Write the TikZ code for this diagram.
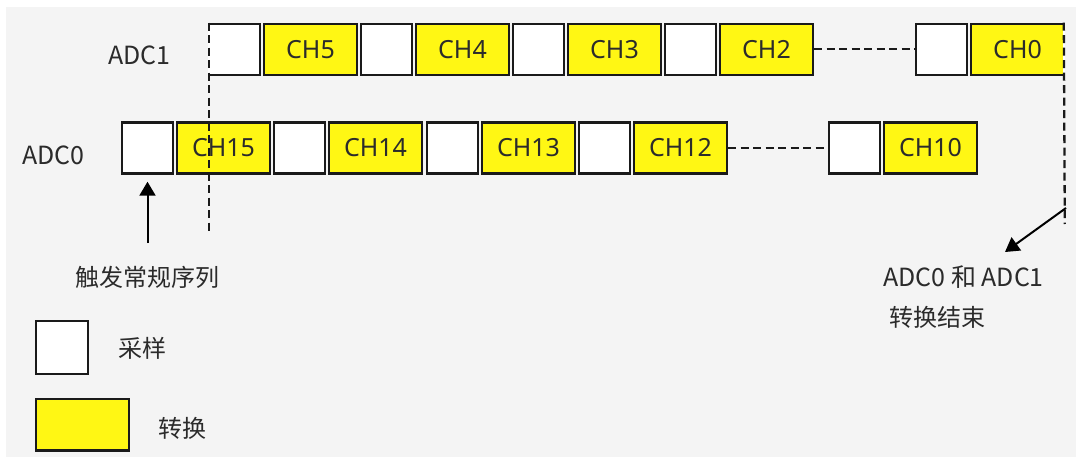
\documentclass[tikz,border=0pt]{standalone}
\usepackage{fontspec}
\setmainfont{Noto Sans CJK SC}
\newfontfamily\chfont{Noto Sans}
\usetikzlibrary{arrows.meta}
\definecolor{bg}{HTML}{F4F4F4}
\definecolor{yel}{HTML}{FFF714}
\definecolor{edgec}{HTML}{1A1A1A}
\definecolor{txt}{HTML}{2B2B2B}
\begin{document}
\begin{tikzpicture}[x=1pt,y=-1pt,
  box/.style={draw=edgec,line width=2.4pt,inner sep=0pt,minimum height=51pt,anchor=west},
  samp/.style={box,fill=white,minimum width=50.6pt},
  conv/.style={box,fill=yel,minimum width=92.6pt,font=\chfont\fontsize{25}{30}\selectfont,text=txt},
  lbl/.style={inner sep=0pt,anchor=west,text=txt,font=\fontsize{24}{28}\selectfont},
  adclbl/.style={lbl,font=\fontsize{25}{30}\selectfont},
  dashline/.style={draw=edgec,line width=2.3pt,dash pattern=on 8pt off 4.5pt},
  arr/.style={draw=black,line width=2pt,-{Triangle[length=14pt,width=16pt]}}
]
\useasboundingbox (0,0) rectangle (1076,460);
\fill[white] (0,0) rectangle (1076,460);
\fill[bg] (6,7.5) rectangle (1076,457);

% ADC1 row
\node[adclbl] (l1) at (108,55) {ADC1};
\node[samp] (a1w1) at (208,49.25) {};
\node[conv] (a1c5) at (263,49.25) {CH5};
\node[samp] (a1w2) at (360,49.25) {};
\node[conv] (a1c4) at (415,49.25) {CH4};
\node[samp] (a1w3) at (512,49.25) {};
\node[conv] (a1c3) at (567,49.25) {CH3};
\node[samp] (a1w4) at (664,49.25) {};
\node[conv] (a1c2) at (719,49.25) {CH2};
\node[samp] (a1w5) at (915,49.25) {};
\node[conv] (a1c0) at (970,49.25) {CH0};
\draw[dashline] (a1c2.east) -- (a1w5.west);

% ADC0 row
\node[adclbl] (l0) at (22,155) {ADC0};
\node[samp] (a0w1) at (121,148) {};
\node[conv] (a0c15) at (176,148) {CH15};
\node[samp] (a0w2) at (273,148) {};
\node[conv] (a0c14) at (328,148) {CH14};
\node[samp] (a0w3) at (426,148) {};
\node[conv] (a0c13) at (481,148) {CH13};
\node[samp] (a0w4) at (578,148) {};
\node[conv] (a0c12) at (633,148) {CH12};
\node[samp] (a0w5) at (828,148) {};
\node[conv] (a0c10) at (883,148) {CH10};
\draw[dashline] (a0c12.east) -- (a0w5.west);

% vertical dashed markers
\coordinate (d1) at (209.2,234);
\coordinate (d2) at (1064.8,224);
\draw[white,line width=2.4pt] ([xshift=1.2pt]a1w1.north west) -- ([xshift=1.2pt]a1w1.south west);
\draw[dashline] ([xshift=1.2pt]a1w1.north west) -- (d1);
\draw[white,line width=2.4pt] ([xshift=-1.2pt]a1c0.north east) -- ([xshift=-1.2pt]a1c0.south east);
\draw[dashline] ([xshift=-1.2pt]a1c0.north east) -- (d2);

% arrows
\coordinate (t0) at (147.5,243);
\draw[arr] (t0) -- ([yshift=-7pt]a0w1.south);
\coordinate (e1) at (1066,208);
\coordinate (e2) at (1005,252);
\draw[arr] (e1) -- (e2);

% annotations
\node[lbl] (trig) at (75,277) {触发常规序列};
\node[adclbl] (endA) at (883,277) {ADC0 和 ADC1};
\node[lbl] (endB) at (889,317) {转换结束};

% legend
\node[box,fill=white,minimum width=51.6pt,minimum height=52.6pt] (lgw) at (35,347.5) {};
\node[lbl] (lgwt) at (118,348) {采样};
\node[box,fill=yel,minimum width=92.6pt,minimum height=51.6pt] (lgy) at (35,424.7) {};
\node[lbl] (lgyt) at (158,428) {转换};
\end{tikzpicture}
\end{document}
